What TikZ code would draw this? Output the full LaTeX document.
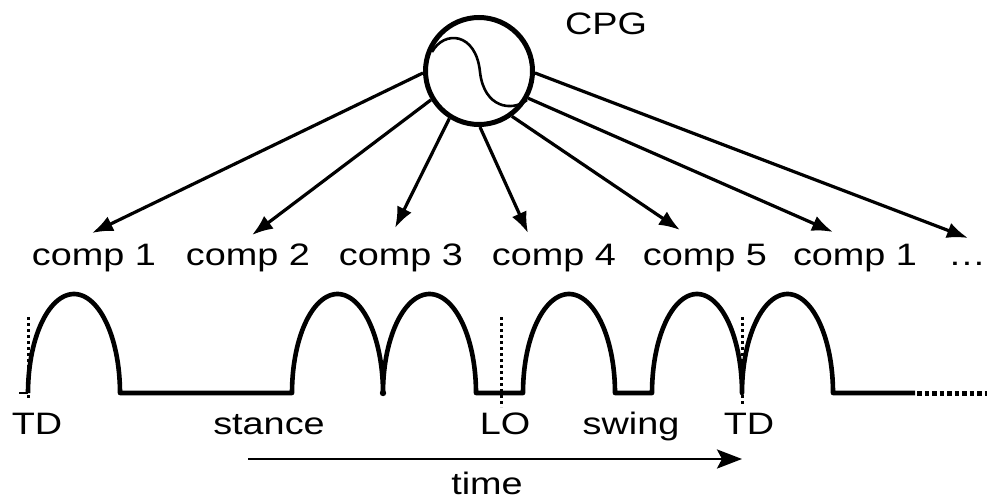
\documentclass[tikz,border=0pt]{standalone}
\usepackage{fontspec}
\setmainfont{Liberation Sans}[FakeStretch=1.22]
\usetikzlibrary{arrows.meta}

\begin{document}
\begin{tikzpicture}[x=1pt, y=-1pt,
  lbl/.style={font=\fontsize{31}{36}\selectfont, anchor=base, inner sep=0pt},
  osc/.style={circle, draw, line width=5pt, minimum size=107pt, inner sep=0pt},
  drive/.style={line width=3.2pt, -{Latex[length=21pt, width=16pt]}},
  wave/.style={line width=4.6pt, line join=round},
  event/.style={line width=3pt, dash pattern=on 3pt off 3pt},
  trail/.style={line width=5pt, dash pattern=on 4.5pt off 3pt}]
\useasboundingbox (0,0) rectangle (992,500);

% central pattern generator
\node[osc] (cpg) at (479,71) {};
\draw[line width=2.6pt] (432,52) .. controls (444,30) and (476,32) .. (480,72)
  .. controls (484,108) and (512,112) .. (527,100);
\node[lbl] (cpglabel) at (606,35) {CPG};

% component labels
\node[lbl] (c1)  at (94,265)  {comp 1};
\node[lbl] (c2)  at (248,265) {comp 2};
\node[lbl] (c3)  at (401,265) {comp 3};
\node[lbl] (c4)  at (554,265) {comp 4};
\node[lbl] (c5)  at (705,265) {comp 5};
\node[lbl] (c1b) at (855,265) {comp 1};
\node[lbl] (cdots) at (967,265) {…};

% arrow tips above the labels
\coordinate (t1)  at (92,233);
\coordinate (t2)  at (252,235);
\coordinate (t3)  at (395,228);
\coordinate (t4)  at (528,233);
\coordinate (t5)  at (680,230);
\coordinate (t1b) at (833,232);
\coordinate (tdots) at (968,238);

\draw[drive] (cpg.182) -- (t1);
\draw[drive] (cpg.211) -- (t2);
\draw[drive] (cpg.238) -- (t3);
\draw[drive] (cpg.271) -- (t4);
\draw[drive] (cpg.306) -- (t5);
\draw[drive] (cpg.331) -- (t1b);
\draw[drive] (cpg.358) -- (tdots);

% touch-down / lift-off markers
\draw[event] (28,317) -- (28,400);
\draw[event] (501,317) -- (501,407);
\draw[event] (742,317) -- (742,405);
\draw[line width=2.8pt] (19,393) -- (28,393);

% foot trajectory
\draw[wave] (28,393)
  -- plot[domain=180:0, samples=60, variable=\t] ({74+46*cos(\t)}, {393-99*sin(\t)})
  -- (292,393)
  -- plot[domain=180:0, samples=60, variable=\t] ({337.5+45.5*cos(\t)}, {393-99*sin(\t)})
  -- plot[domain=180:0, samples=60, variable=\t] ({429.5+46.5*cos(\t)}, {393-99*sin(\t)})
  -- (523,393)
  -- plot[domain=180:0, samples=60, variable=\t] ({569+46*cos(\t)}, {393-99*sin(\t)})
  -- (652,393)
  -- plot[domain=180:0, samples=60, variable=\t] ({697+45*cos(\t)}, {393-99*sin(\t)})
  -- plot[domain=180:0, samples=60, variable=\t] ({787.5+45.5*cos(\t)}, {393-99*sin(\t)})
  -- (915,393);
\draw[trail] (917,393) -- (987,393);
\fill (383,393) circle (3.2pt);

% phase labels
\node[lbl] (td1)    at (37,434)  {TD};
\node[lbl] (stance) at (269,434) {stance};
\node[lbl] (lo)     at (505,434) {LO};
\node[lbl] (swing)  at (631,434) {swing};
\node[lbl] (td2)    at (749,434) {TD};

% time axis
\coordinate (ts) at (248,459);
\coordinate (te) at (742,459);
\draw[line width=2.8pt, -{Stealth[length=25pt, width=19pt, inset=5pt]}] (ts) -- (te);
\node[lbl] (time) at (487,494) {time};
\end{tikzpicture}
\end{document}
